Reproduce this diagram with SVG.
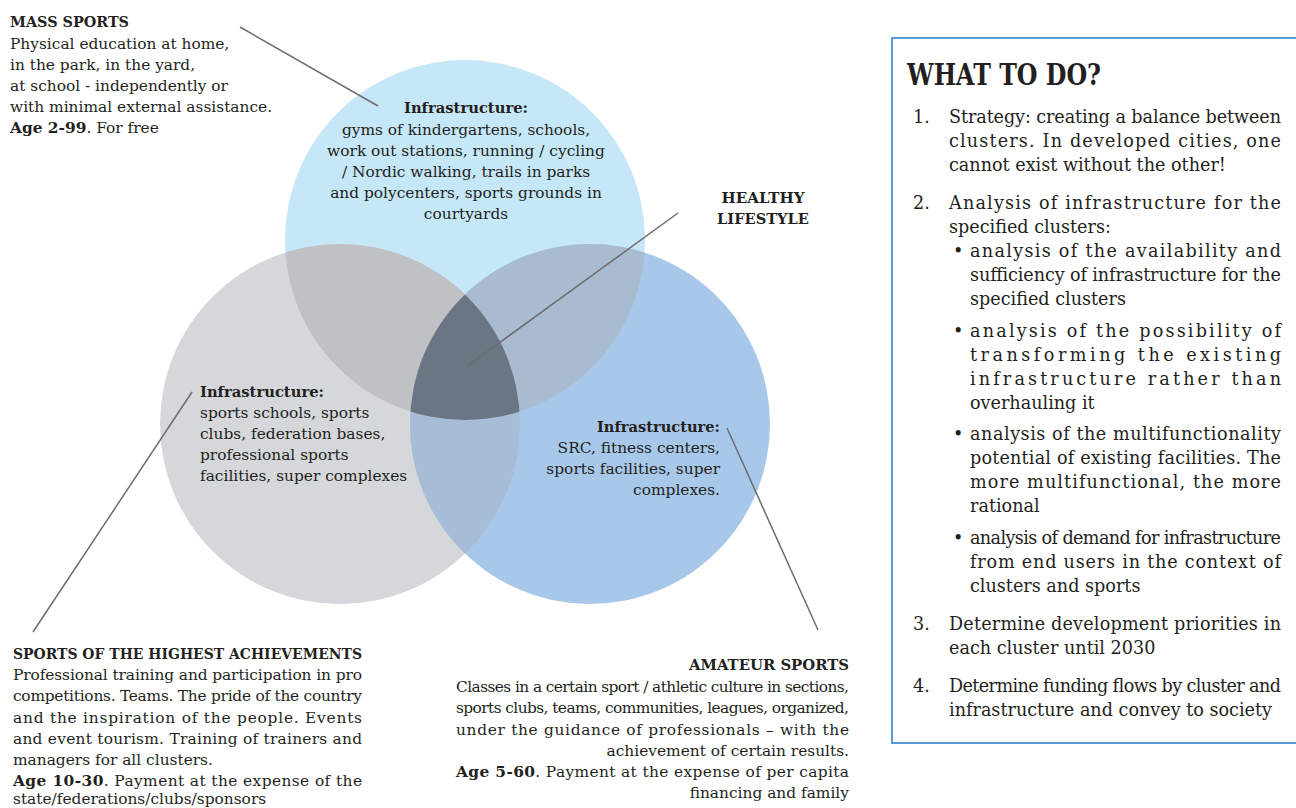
<svg xmlns="http://www.w3.org/2000/svg" width="1296" height="808" viewBox="0 0 1296 808">
<style>
text{font-family:"DejaVu Serif","Liberation Serif",serif;fill:#231f20}
.s{font-size:15.4px}
.m{font-size:17.6px}
.b{font-weight:bold}
.c{text-anchor:middle}
.e{text-anchor:end}
.ln{stroke:#6d6d6d;stroke-width:1.5;fill:none}
</style>
<defs>
<clipPath id="cT"><circle cx="465" cy="240" r="180"/></clipPath>
<clipPath id="cL"><circle cx="340" cy="424" r="180"/></clipPath>
<clipPath id="cR"><circle cx="590" cy="424" r="180"/></clipPath>
</defs>
<rect width="1296" height="808" fill="#ffffff"/>
<g id="venn">
<circle cx="465" cy="240" r="180" fill="#c6e7f8"/>
<circle cx="340" cy="424" r="180" fill="#d6d7da"/>
<circle cx="590" cy="424" r="180" fill="#a8c8ea"/>
<circle cx="465" cy="240" r="180" fill="#bfc1c5" clip-path="url(#cL)"/>
<circle cx="465" cy="240" r="180" fill="#a9bbd0" clip-path="url(#cR)"/>
<circle cx="340" cy="424" r="180" fill="#a7bcd6" clip-path="url(#cR)"/>
<g clip-path="url(#cL)"><circle cx="465" cy="240" r="180" fill="#6b7684" clip-path="url(#cR)"/></g>
</g>
<g id="connectors">
<line class="ln" x1="240" y1="27" x2="378" y2="106"/>
<line class="ln" x1="678" y1="213" x2="466" y2="367"/>
<line class="ln" x1="33" y1="632" x2="192" y2="392"/>
<line class="ln" x1="727" y1="428" x2="818" y2="630"/>
</g>
<g id="mass-sports">
<text class="s b" x="10" y="27" textLength="119" lengthAdjust="spacingAndGlyphs">MASS SPORTS</text>
<text class="s" x="10" y="49">Physical education at home,</text>
<text class="s" x="10" y="70">in the park, in the yard,</text>
<text class="s" x="10" y="91">at school - independently or</text>
<text class="s" x="10" y="112">with minimal external assistance.</text>
<text class="s" x="10" y="133"><tspan class="b">Age 2-99</tspan>. For free</text>
</g>
<g id="mass-infra">
<text class="s b c" x="466" y="113" textLength="124" lengthAdjust="spacingAndGlyphs">Infrastructure:</text>
<text class="s c" x="466" y="135">gyms of kindergartens, schools,</text>
<text class="s c" x="466" y="156">work out stations, running / cycling</text>
<text class="s c" x="466" y="177">/ Nordic walking, trails in parks</text>
<text class="s c" x="466" y="198">and polycenters, sports grounds in</text>
<text class="s c" x="466" y="219">courtyards</text>
</g>
<g id="healthy-lifestyle">
<text class="s b c" x="763" y="203" textLength="83" lengthAdjust="spacingAndGlyphs">HEALTHY</text>
<text class="s b c" x="763" y="224" textLength="92" lengthAdjust="spacingAndGlyphs">LIFESTYLE</text>
</g>
<g id="highest-infra">
<text class="s b" x="200" y="397" textLength="124" lengthAdjust="spacingAndGlyphs">Infrastructure:</text>
<text class="s" x="200" y="418">sports schools, sports</text>
<text class="s" x="200" y="439">clubs, federation bases,</text>
<text class="s" x="200" y="460">professional sports</text>
<text class="s" x="200" y="481">facilities, super complexes</text>
</g>
<g id="amateur-infra">
<text class="s b e" x="720" y="432" textLength="123" lengthAdjust="spacingAndGlyphs">Infrastructure:</text>
<text class="s e" x="720" y="453">SRC, fitness centers,</text>
<text class="s e" x="720" y="474">sports facilities, super</text>
<text class="s e" x="720" y="495">complexes.</text>
</g>
<g id="highest-achievements">
<text class="s b" x="13" y="659" textLength="349" lengthAdjust="spacingAndGlyphs">SPORTS OF THE HIGHEST ACHIEVEMENTS</text>
<text class="s" x="13" y="680" textLength="349">Professional training and participation in pro</text>
<text class="s" x="13" y="701" textLength="349">competitions. Teams. The pride of the country</text>
<text class="s" x="13" y="723" textLength="349">and the inspiration of the people. Events</text>
<text class="s" x="13" y="744" textLength="349">and event tourism. Training of trainers and</text>
<text class="s" x="13" y="765">managers for all clusters.</text>
<text class="s" x="13" y="786" textLength="349"><tspan class="b">Age 10-30</tspan>. Payment at the expense of the</text>
<text class="s" x="13" y="804">state/federations/clubs/sponsors</text>
</g>
<g id="amateur-sports">
<text class="s b e" x="849" y="670" textLength="160" lengthAdjust="spacingAndGlyphs">AMATEUR SPORTS</text>
<text class="s" x="456" y="692" textLength="393">Classes in a certain sport / athletic culture in sections,</text>
<text class="s" x="456" y="713" textLength="393">sports clubs, teams, communities, leagues, organized,</text>
<text class="s" x="456" y="735" textLength="393">under the guidance of professionals – with the</text>
<text class="s e" x="849" y="756">achievement of certain results.</text>
<text class="s" x="456" y="777" textLength="393"><tspan class="b">Age 5-60</tspan>. Payment at the expense of per capita</text>
<text class="s e" x="849" y="798">financing and family</text>
</g>
<g id="what-to-do">
<rect x="892" y="38" width="410" height="705" fill="none" stroke="#5b9bd5" stroke-width="2"/>
<text class="b" x="907" y="85" font-size="29" textLength="194" lengthAdjust="spacingAndGlyphs">WHAT TO DO?</text>
<text class="m" x="913" y="123">1.</text>
<text class="m" x="949" y="123" textLength="332">Strategy: creating a balance between</text>
<text class="m" x="949" y="147" textLength="332">clusters. In developed cities, one</text>
<text class="m" x="949" y="171">cannot exist without the other!</text>
<text class="m" x="913" y="209">2.</text>
<text class="m" x="949" y="209" textLength="332">Analysis of infrastructure for the</text>
<text class="m" x="949" y="233">specified clusters:</text>
<text class="m" x="953" y="257">•</text>
<text class="m" x="970" y="257" textLength="311">analysis of the availability and</text>
<text class="m" x="970" y="281" textLength="311">sufficiency of infrastructure for the</text>
<text class="m" x="970" y="305">specified clusters</text>
<text class="m" x="953" y="337">•</text>
<text class="m" x="970" y="337" textLength="311">analysis of the possibility of</text>
<text class="m" x="970" y="361" textLength="311">transforming the existing</text>
<text class="m" x="970" y="385" textLength="311">infrastructure rather than</text>
<text class="m" x="970" y="409">overhauling it</text>
<text class="m" x="953" y="440">•</text>
<text class="m" x="970" y="440" textLength="311">analysis of the multifunctionality</text>
<text class="m" x="970" y="464" textLength="311">potential of existing facilities. The</text>
<text class="m" x="970" y="488" textLength="311">more multifunctional, the more</text>
<text class="m" x="970" y="512">rational</text>
<text class="m" x="953" y="544">•</text>
<text class="m" x="970" y="544" textLength="311">analysis of demand for infrastructure</text>
<text class="m" x="970" y="568" textLength="311">from end users in the context of</text>
<text class="m" x="970" y="592">clusters and sports</text>
<text class="m" x="913" y="630">3.</text>
<text class="m" x="949" y="630" textLength="332">Determine development priorities in</text>
<text class="m" x="949" y="654">each cluster until 2030</text>
<text class="m" x="913" y="692">4.</text>
<text class="m" x="949" y="692" textLength="332">Determine funding flows by cluster and</text>
<text class="m" x="949" y="716">infrastructure and convey to society</text>
</g>
</svg>
